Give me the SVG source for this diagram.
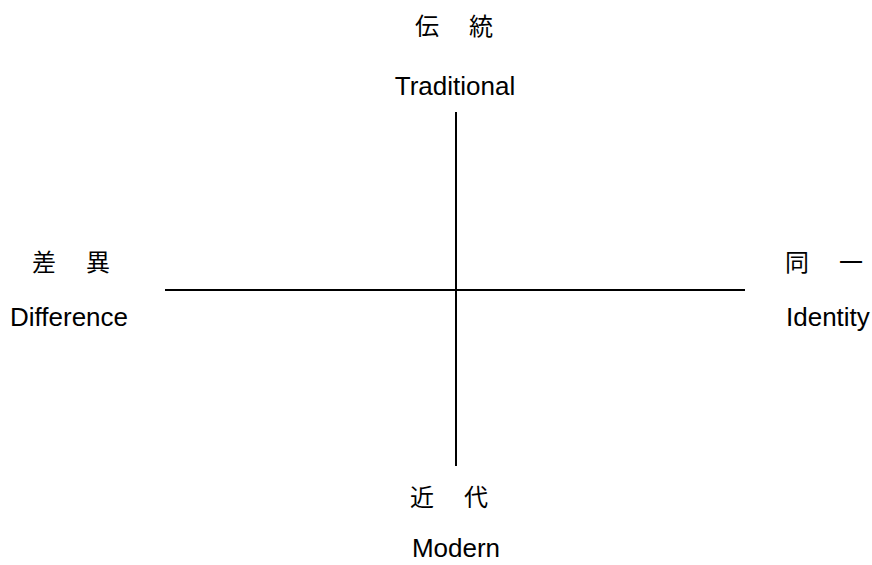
<svg xmlns="http://www.w3.org/2000/svg" width="872" height="565" viewBox="0 0 872 565">
<style>
.cjk{font-family:"Liberation Sans","Noto Sans CJK JP",sans-serif;font-size:24px;fill:#000;letter-spacing:3px}
.lat{font-family:"Liberation Sans",Arial,sans-serif;font-size:26px;fill:#000}
.axis{stroke:#000;stroke-width:2;fill:none}
</style>
<rect width="872" height="565" fill="#fff"/>
<g id="connectors">
<line class="axis" x1="456" y1="112" x2="456" y2="466"/>
<line class="axis" x1="165" y1="290" x2="745" y2="290"/>
</g>
<g id="node-traditional">
<text class="cjk" x="415" y="35" xml:space="preserve">伝　統</text>
<text class="lat" x="455" y="95" text-anchor="middle">Traditional</text>
</g>
<g id="node-difference">
<text class="cjk" x="32" y="271" xml:space="preserve">差　異</text>
<text class="lat" x="10" y="326">Difference</text>
</g>
<g id="node-identity">
<text class="cjk" x="785" y="271" xml:space="preserve">同　一</text>
<text class="lat" x="786" y="326">Identity</text>
</g>
<g id="node-modern">
<text class="cjk" x="410" y="506" xml:space="preserve">近　代</text>
<text class="lat" x="456" y="557" text-anchor="middle">Modern</text>
</g>
</svg>
